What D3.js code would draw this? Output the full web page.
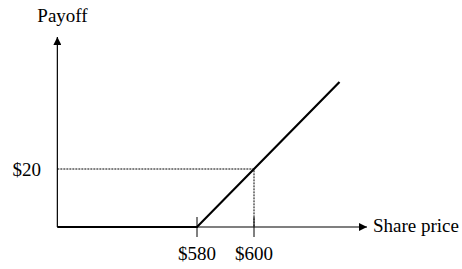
<!DOCTYPE html>
<html>
<head>
<meta charset="utf-8">
<script src="https://cdn.jsdelivr.net/npm/d3@7"></script>
<style>
  body { margin: 0; background: #fff; }
  text { font-family: "Liberation Serif", "Times New Roman", serif; font-size: 19px; fill: #000; }
</style>
</head>
<body>
<div id="chart"></div>
<script>
// payoff of a long call with strike $580
const sharePrices = [531, 580, 630];
const payoffs = [0, 0, 50];
const xTicks = [580, 600];
const xTickLabels = ["$580", "$600"];
const yTicks = [20];
const yTickLabels = ["$20"];

const width = 462, height = 269;

const svg = d3.select("#chart").append("svg")
    .attr("width", width)
    .attr("height", height);

const x = d3.scaleLinear().domain([580, 600]).range([197, 254]);
const y = d3.scaleLinear().domain([0, 20]).range([227, 169]);

const x0 = x(sharePrices[0]);
const y0 = y(0);

const defs = svg.append("defs");
defs.append("marker")
    .attr("id", "arrow")
    .attr("viewBox", "0 0 10 10")
    .attr("refX", 10).attr("refY", 5)
    .attr("markerWidth", 10).attr("markerHeight", 8)
    .attr("markerUnits", "userSpaceOnUse")
    .attr("orient", "auto")
    .append("path")
    .attr("d", "M0,0L10,5L0,10Z")
    .attr("fill", "#000");

// axes
svg.append("line")
    .attr("x1", x0).attr("y1", y0)
    .attr("x2", x0).attr("y2", 37)
    .attr("stroke", "#000").attr("stroke-width", 1.2)
    .attr("marker-end", "url(#arrow)");

svg.append("line")
    .attr("x1", x0).attr("y1", y0)
    .attr("x2", 367).attr("y2", y0)
    .attr("stroke", "#000").attr("stroke-width", 1.2)
    .attr("marker-end", "url(#arrow)");

svg.append("text")
    .attr("x", 62.5).attr("y", 22)
    .attr("text-anchor", "middle")
    .text("Payoff");

svg.append("text")
    .attr("x", 373).attr("y", 232)
    .text("Share price");

// guide lines at $600 / $20
svg.append("path")
    .attr("d", `M${x0},${y(20)}H${x(600)}V${y0}`)
    .attr("fill", "none")
    .attr("stroke", "#000")
    .attr("stroke-width", 1)
    .attr("stroke-dasharray", "2,1");

// ticks
svg.selectAll(".xtick")
    .data(xTicks)
    .enter().append("line")
    .attr("class", "xtick")
    .attr("x1", d => x(d)).attr("x2", d => x(d))
    .attr("y1", y0 - 10).attr("y2", y0 + 10)
    .attr("stroke", "#000").attr("stroke-width", 1);

svg.selectAll(".xlabel")
    .data(xTicks)
    .enter().append("text")
    .attr("class", "xlabel")
    .attr("x", d => x(d)).attr("y", 260)
    .attr("text-anchor", "middle")
    .text((d, i) => xTickLabels[i]);

svg.selectAll(".ylabel")
    .data(yTicks)
    .enter().append("text")
    .attr("class", "ylabel")
    .attr("x", 41).attr("y", d => y(d) + 7)
    .attr("text-anchor", "end")
    .text((d, i) => yTickLabels[i]);

// payoff line
const line = d3.line()
    .x((d, i) => x(sharePrices[i]))
    .y(d => y(d));

svg.append("path")
    .datum(payoffs)
    .attr("d", line)
    .attr("fill", "none")
    .attr("stroke", "#000")
    .attr("stroke-width", 2.2);
</script>
</body>
</html>
